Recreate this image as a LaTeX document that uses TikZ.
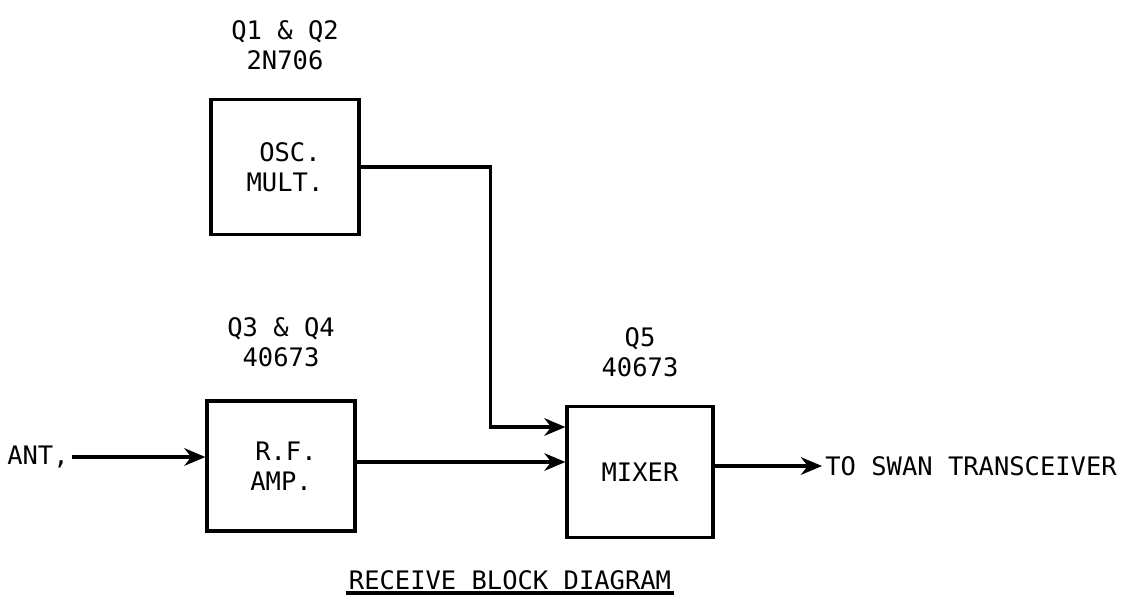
\documentclass[tikz,border=0pt]{standalone}
\usepackage{fontspec}
\newfontfamily\letterfont{DejaVu Sans Mono}
\usepackage{tikz}
\usetikzlibrary{arrows.meta, positioning, calc}

\begin{document}
\begin{tikzpicture}[x=0.02cm, y=-0.02cm, >={Stealth[length=12pt, width=10pt]}, line width=1.8pt]
    \tikzset{
        block/.style={rectangle, draw, minimum width=2.96cm, minimum height=2.6cm, align=center, font=\letterfont\fontsize{14.5}{17}\selectfont},
        tag/.style={align=center, inner sep=1pt, font=\letterfont\fontsize{14.5}{17}\selectfont},
        line/.style={draw, ->}
    }
    \useasboundingbox (0,0) rectangle (1133,606);

    % blocks
    \node (Osc) [block, minimum height=2.7cm] at (285,167) {\hspace*{0.2cm}OSC.\\MULT.};
    \node (Amp) [block] at (281,466) {\hspace*{0.2cm}R.F.\\AMP.};
    \node (Mixer) [block, minimum width=2.92cm, minimum height=2.62cm] at (640,472) {MIXER};

    % part labels
    \node (OscTag) [tag, above=0.5cm of Osc] {Q1 \& Q2\\2N706};
    \node (AmpTag) [tag, above=0.58cm of Amp] {Q3 \& Q4\\40673};
    \node (MixTag) [tag, above=0.5cm of Mixer] {Q5\\40673};

    % ends
    \node (Ant) [tag, anchor=east] at (72,457) {ANT,};
    \node (Out) [tag, anchor=west] at (822,466) {TO SWAN TRANSCEIVER};
    \node (Title) [tag] at (510,580) {RECEIVE BLOCK DIAGRAM};
    \draw (Title.south west) -- (Title.south east);

    % inputs of the mixer
    \coordinate (InLo) at ($(Mixer.west)+(0,-10)$);
    \coordinate (InHi) at ($(Mixer.west)+(0,-45)$);

    \path [line] (Ant.east) -- (Ant.east -| Amp.west);
    \path [line] (Amp.east |- InLo) -- (InLo);
    \path [line] (Osc.east) -- ++(130,0) |- (InHi);
    \path [line] (Mixer.east |- Out) -- (Out.west);

\end{tikzpicture}
\end{document}
